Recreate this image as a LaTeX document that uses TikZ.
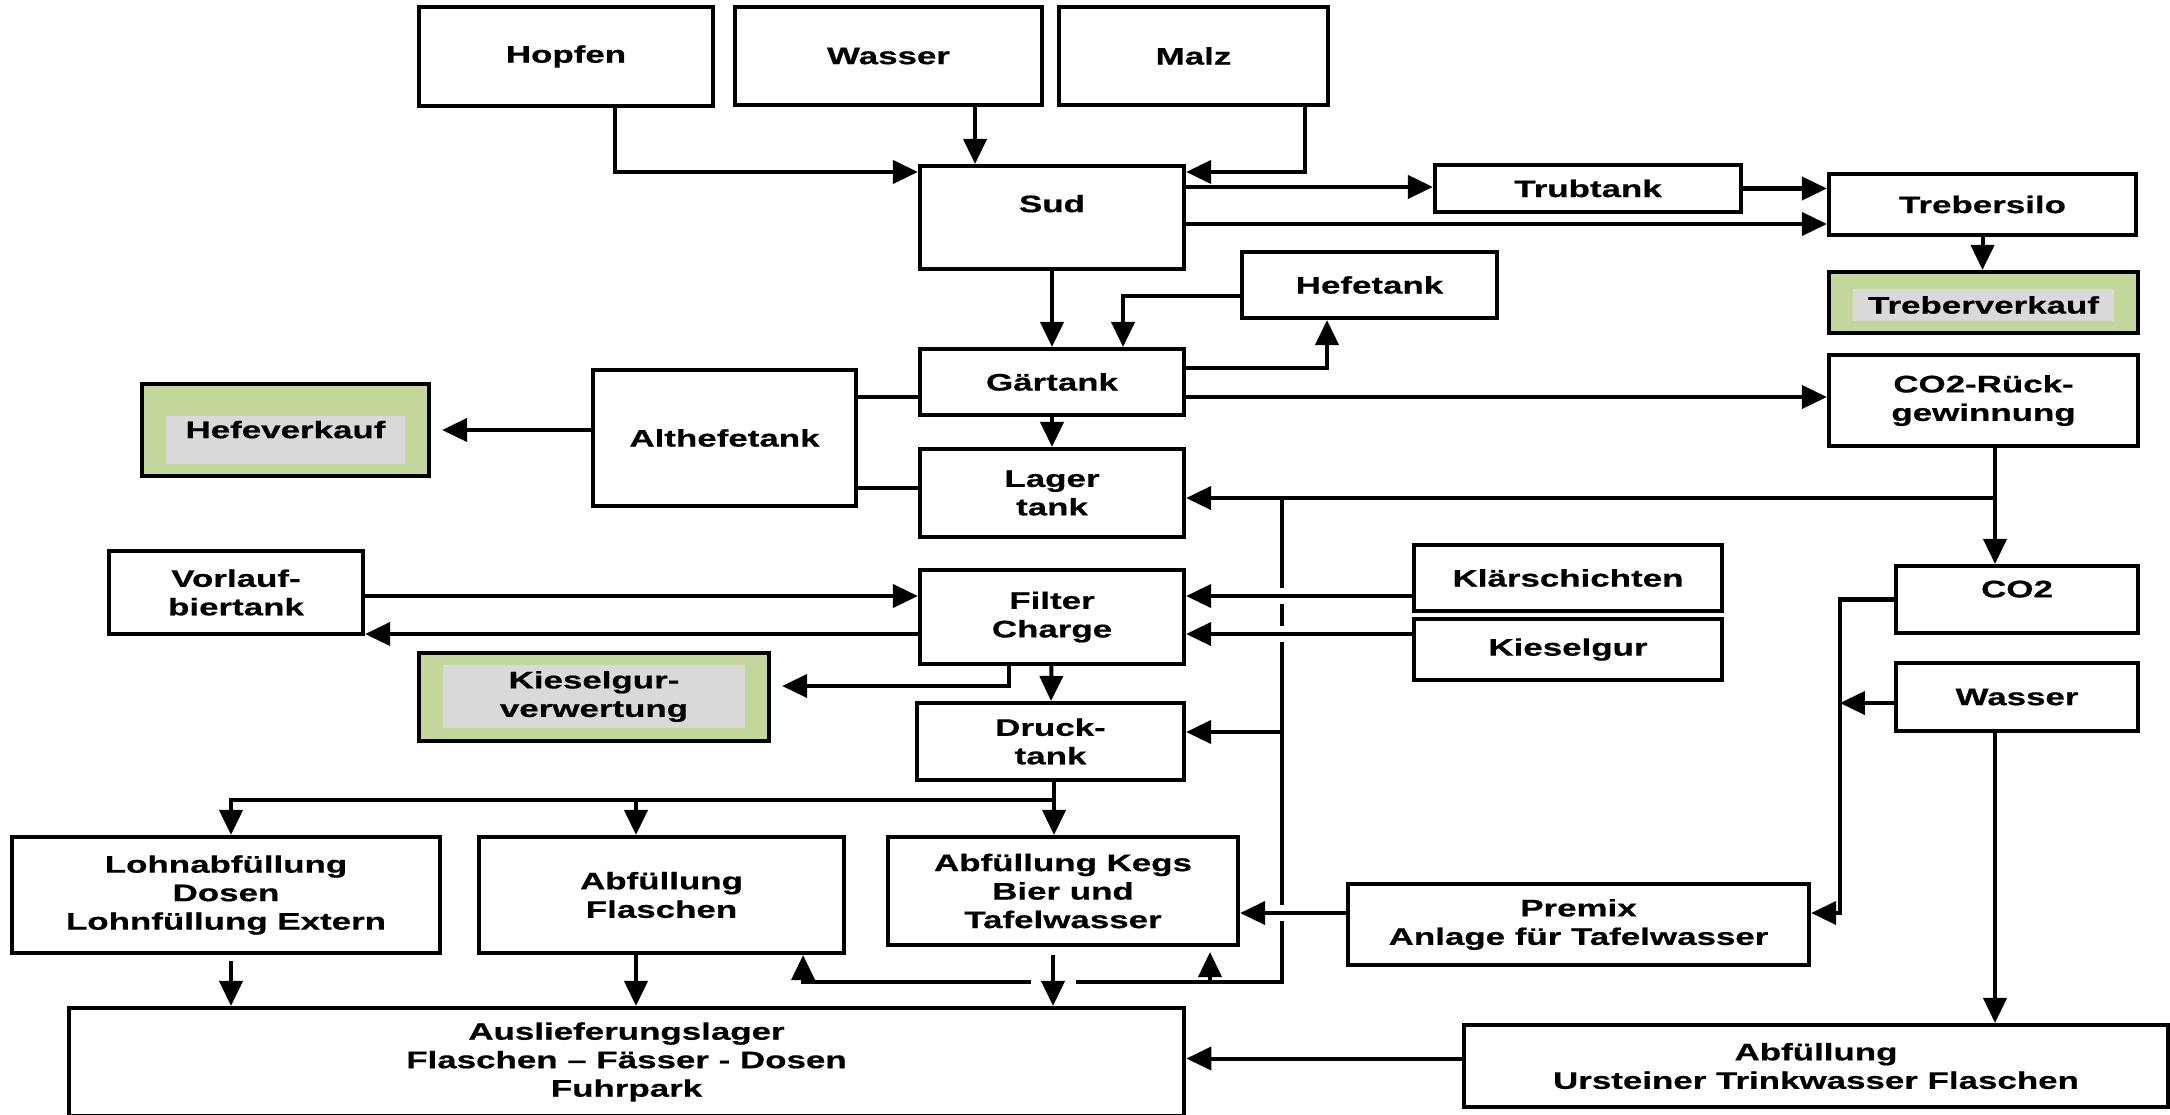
\documentclass[tikz,border=0pt]{standalone}
\usepackage{fontspec}
\setmainfont{Liberation Sans}[FakeStretch=1.46, FakeBold=0.6]
\usetikzlibrary{arrows.meta}

\definecolor{salegreen}{HTML}{C3D69B}
\definecolor{salegray}{HTML}{D9D9D9}

\tikzset{
  box/.style={draw, line width=1.15pt, align=center, inner sep=0pt, font=\bfseries\fontsize{6.8}{8.1}\selectfont},
  sale/.style={box, fill=salegreen},
  salelabel/.style={fill=salegray, align=center, inner sep=0pt, font=\bfseries\fontsize{6.8}{8.1}\selectfont},
  pipe/.style={line width=1.15pt},
  flow/.style={pipe, -{Triangle[length=0.25cm,width=0.23cm]}}
}

\begin{document}
\begin{tikzpicture}[x=0.01cm, y=-0.01cm]

\useasboundingbox (0,0) rectangle (2170,1114);

\node [box, minimum width=2.94cm, minimum height=0.99cm] (hopfen) at (566,56.5) {Hopfen};
\node [box, minimum width=3.07cm, minimum height=0.98cm] (wasser) at (888.5,56) {Wasser};
\node [box, minimum width=2.69cm, minimum height=0.98cm] (malz) at (1193.5,56) {Malz};
\node [box, minimum width=2.64cm, minimum height=1.03cm, text depth=0.28cm] (sud) at (1052,217.5) {Sud};
\node [box, minimum width=3.06cm, minimum height=0.47cm] (trubtank) at (1588,188.5) {Trubtank};
\node [box, minimum width=3.07cm, minimum height=0.61cm] (trebersilo) at (1982.5,204.5) {Trebersilo};
\node [sale, minimum width=3.09cm, minimum height=0.61cm] (treberverkauf) at (1983.5,302.5) {};
\node [salelabel, minimum width=2.6cm, minimum height=0.32cm] (treberverkauftext) at (1983.5,305) {Treberverkauf};
\node [box, minimum width=2.55cm, minimum height=0.66cm] (hefetank) at (1369.5,285) {Hefetank};
\node [box, minimum width=2.64cm, minimum height=0.66cm] (gaertank) at (1052,382) {Gärtank};
\node [box, minimum width=2.63cm, minimum height=1.36cm] (althefetank) at (724.5,438) {Althefetank};
\node [sale, minimum width=2.87cm, minimum height=0.92cm] (hefeverkauf) at (285.5,430) {};
\node [salelabel, minimum width=2.39cm, minimum height=0.48cm, text depth=0.21cm] (hefeverkauftext) at (285.5,440) {Hefeverkauf};
\node [box, minimum width=3.09cm, minimum height=0.91cm] (co2rueck) at (1983.5,400.5) {CO2-Rück-\\gewinnung};
\node [box, minimum width=2.64cm, minimum height=0.88cm] (lagertank) at (1052,493) {Lager\\tank};
\node [box, minimum width=2.54cm, minimum height=0.83cm] (vorlauf) at (236,592.5) {Vorlauf-\\biertank};
\node [box, minimum width=2.64cm, minimum height=0.94cm] (filter) at (1052,617) {Filter\\Charge};
\node [box, minimum width=3.08cm, minimum height=0.66cm] (klaer) at (1568,578) {Klärschichten};
\node [box, minimum width=3.08cm, minimum height=0.61cm] (kieselgur) at (1568,649.5) {Kieselgur};
\node [sale, minimum width=3.5cm, minimum height=0.88cm] (kgverw) at (594,697) {};
\node [salelabel, minimum width=3.02cm, minimum height=0.63cm] (kgverwtext) at (594,696.5) {Kieselgur-\\verwertung};
\node [box, minimum width=2.42cm, minimum height=0.67cm, text depth=0.21cm] (co2) at (2017,599.5) {CO2};
\node [box, minimum width=2.42cm, minimum height=0.68cm] (wasserb) at (2017,697) {Wasser};
\node [box, minimum width=2.67cm, minimum height=0.77cm] (druck) at (1050.5,741.5) {Druck-\\tank};
\node [box, minimum width=4.28cm, minimum height=1.16cm] (lohn) at (226,895) {Lohnabfüllung\\Dosen\\Lohnfüllung Extern};
\node [box, minimum width=3.65cm, minimum height=1.16cm] (flaschen) at (661.5,895) {Abfüllung\\Flaschen};
\node [box, minimum width=3.5cm, minimum height=1.08cm] (kegs) at (1063,891) {Abfüllung Kegs\\Bier und\\Tafelwasser};
\node [box, minimum width=4.61cm, minimum height=0.81cm] (premix) at (1578.5,924.5) {Premix\\Anlage für Tafelwasser};
\node [box, minimum width=11.15cm, minimum height=1.08cm] (auslief) at (626.5,1062) {Auslieferungslager\\Flaschen – Fässer - Dosen\\Fuhrpark};
\node [box, minimum width=7.04cm, minimum height=0.82cm] (urst) at (1816,1066) {Abfüllung\\Ursteiner Trinkwasser Flaschen};

% Sud
\draw [flow] ([xshift=0.49cm]hopfen.south) |- ([yshift=-0.08cm]sud.north west);
\draw [flow] ([xshift=0.865cm]wasser.south) -- ([xshift=0.865cm]wasser.south |- sud.north);
\draw [flow] ([xshift=1.115cm]malz.south) |- ([yshift=-0.08cm]sud.north east);
\draw [flow] ([yshift=-0.23cm]sud.north east) -- ([yshift=-0.23cm]sud.north east -| trubtank.west);
\draw [flow] (trubtank.east) -- (trubtank.east -| trebersilo.west);
\draw [flow] ([yshift=-0.6cm]sud.north east) -- ([yshift=-0.6cm]sud.north east -| trebersilo.west);
\draw [flow] (trebersilo.south) -- (trebersilo.south |- treberverkauf.north);
\draw [flow] (sud) -- (gaertank);

% Gaertank
\draw [flow] ([yshift=-0.11cm]hefetank.west) -| ([xshift=0.71cm]gaertank.north);
\draw [flow] ([yshift=-0.21cm]gaertank.north east) -| ([xshift=-0.425cm]hefetank.south);
\draw [flow] ([yshift=-0.5cm]gaertank.north east) -- ([yshift=-0.5cm]gaertank.north east -| co2rueck.west);
\draw [pipe] ([yshift=-0.29cm]althefetank.north east) -- ([yshift=-0.29cm]althefetank.north east -| gaertank.west);
\draw [pipe] ([yshift=-1.2cm]althefetank.north east) -- ([yshift=-1.2cm]althefetank.north east -| lagertank.west);
\draw [flow, shorten >=0.11cm] (althefetank.west |- hefeverkauf.east) -- (hefeverkauf.east);
\draw [flow] (gaertank) -- (lagertank);

% CO2
\coordinate (co2split) at (1995,498);
\coordinate (bustop) at (1282,498);
\coordinate (busdruck) at (1282,732);
\coordinate (busbot) at (1282,982);
\draw [flow] ([xshift=0.115cm]co2rueck.south) -- ([xshift=0.115cm]co2rueck.south |- co2.north);
\draw [flow] (co2split) -- (co2split -| lagertank.east);
\draw [pipe] (bustop) -- (1282,588);
\draw [pipe] (1282,604) -- (1282,626);
\draw [pipe] (1282,642) -- (1282,905);
\draw [pipe] (1282,921) -- (busbot) -- (1076,982);
\draw [flow] (busdruck) -- (busdruck -| druck.east);
\draw [flow] (1031,982) -| ([xshift=1.415cm]flaschen.south);
\draw [flow] (1210,982) -- (1210,952);

% Filter
\draw [flow] ([yshift=-0.035cm]vorlauf.east) -- ([yshift=-0.035cm]vorlauf.east -| filter.west);
\draw [flow] ([yshift=-0.17cm]filter.west) -- ([yshift=-0.17cm]filter.west -| vorlauf.east);
\draw [flow, shorten >=0.11cm] ([xshift=-0.43cm]filter.south) |- ([yshift=0.11cm]kgverw.east);
\draw [flow] (filter) -- (druck);
\draw [flow] ([yshift=-0.18cm]klaer.west) -- ([yshift=-0.18cm]klaer.west -| filter.east);
\draw [flow] ([yshift=0.155cm]kieselgur.west) -- ([yshift=0.155cm]kieselgur.west -| filter.east);

% Abfuellung
\coordinate (split) at (1054,800);
\draw [flow] ([xshift=0.035cm]druck.south) -- ([xshift=0.035cm]druck.south |- kegs.north);
\draw [flow] (split) -| ([xshift=0.05cm]lohn.north);
\draw [flow] ([xshift=-0.255cm]flaschen.north |- split) -- ([xshift=-0.255cm]flaschen.north);
\draw [flow] ([xshift=0.05cm,yshift=-0.06cm]lohn.south) -- ([xshift=0.05cm]lohn.south |- auslief.north);
\draw [flow] ([xshift=-0.255cm]flaschen.south) -- ([xshift=-0.255cm]flaschen.south |- auslief.north);
\draw [flow] ([xshift=-0.1cm,yshift=-0.08cm]kegs.south) -- ([xshift=-0.1cm]kegs.south |- auslief.north);

% Tafelwasser
\draw [flow] ([yshift=0.115cm]premix.west) -- ([yshift=0.115cm]premix.west -| kegs.east);
\draw [flow] (co2.west) -- ++(-54,0) |- ([yshift=0.115cm]premix.east);
\draw [flow] ([yshift=-0.06cm]wasserb.west) -- ++(-54,0);
\draw [flow] ([xshift=-0.22cm]wasserb.south) -- ([xshift=-0.22cm]wasserb.south |- urst.north);
\draw [flow] ([yshift=0.075cm]urst.west) -- ([yshift=0.075cm]urst.west -| auslief.east);

\end{tikzpicture}
\end{document}
